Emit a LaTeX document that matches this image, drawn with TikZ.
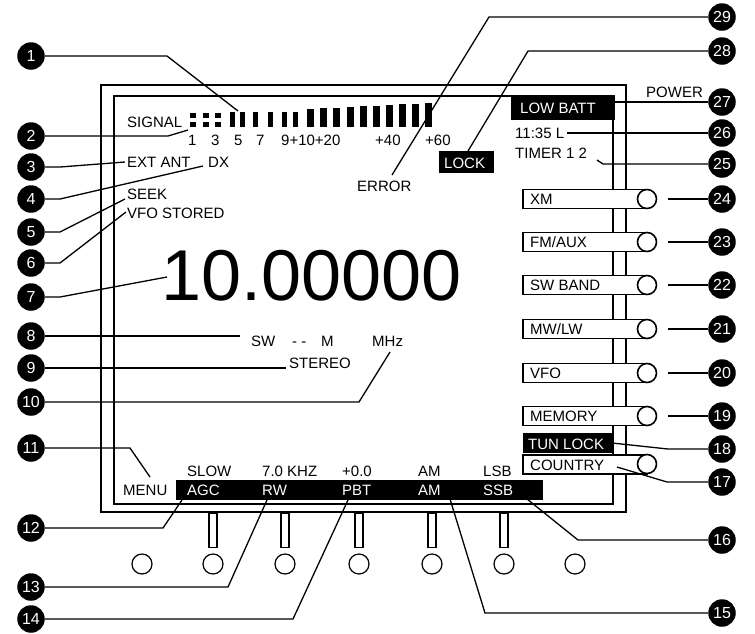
\documentclass[tikz,border=0pt]{standalone}
\usepackage{fontspec}
\setmainfont{Liberation Sans}
\begin{document}
\begin{tikzpicture}[x=1pt,y=-1pt,
  txt/.style={font=\fontsize{15}{18}\selectfont, anchor=base west, inner sep=0pt},
  wtxt/.style={txt, text=white},
  num/.style={circle, fill=black, text=white, minimum size=27.5pt, inner sep=0pt, font=\fontsize{16}{18}\selectfont},
  ldr/.style={line width=1.3pt},
  frm/.style={line width=1.5pt},
  blk/.style={fill=black, draw=none, inner sep=0pt, anchor=north west},
  btnbox/.style={draw, fill=white, line width=1.3pt, minimum width=124pt, minimum height=19pt, inner sep=0pt, anchor=west},
  knob/.style={circle, draw, fill=white, line width=1.6pt, minimum size=19pt, inner sep=0pt},
  stem/.style={draw, fill=white, line width=1.2pt, minimum width=8pt, minimum height=34pt, inner sep=0pt, anchor=north},
  dial/.style={circle, draw, line width=1.2pt, minimum size=20pt, inner sep=0pt}
]
\useasboundingbox (0,0) rectangle (755,633);

% frames
\draw[frm] (101,85) rectangle (626,512);
\draw[frm] (114,96) rectangle (613,504);

% signal meter
\node[txt] (tsig) at (127,127) {SIGNAL};
\foreach \x in {190,203,215} {
  \fill (\x,113) rectangle ({\x+5.5},118);
  \fill (\x,122) rectangle ({\x+5.5},127);
}
\foreach \x in {230,240,253,268,282,293} \fill (\x,112) rectangle ({\x+5},127);
\foreach \x [count=\i] in {307,320,333,347,360,373,386,399,412,425}
  \fill (\x,{109.6-0.65*\i}) rectangle ({\x+6.5},127);
\node[txt] (s1) at (188,145) {1};
\node[txt] (s3) at (211,145) {3};
\node[txt] (s5) at (234,145) {5};
\node[txt] (s7) at (256,145) {7};
\node[txt] (s9) at (281,145) {9+10+20};
\node[txt] (s40) at (375,145) {+40};
\node[txt] (s60) at (425,145) {+60};

% left texts
\node[txt] (text) at (127,167) {EXT ANT};
\node[txt] (tdx) at (208,167) {DX};
\node[txt] (tseek) at (127,199) {SEEK};
\node[txt] (tvfo) at (127,218) {VFO STORED};
\node[font=\fontsize{72}{72}\selectfont, anchor=base west, inner sep=0pt] (freq) at (161,300) {10.00000};
\node[txt] (tsw) at (251,346) {SW};
\node[txt] (tdash) at (292,346) {- -};
\node[txt] (tm) at (321,346) {M};
\node[txt] (tmhz) at (372,346) {MHz};
\node[txt] (tstereo) at (289,368) {STEREO};
\node[txt] (terror) at (357,191) {ERROR};

% black boxes top right
\node[blk, minimum width=55pt, minimum height=22pt] (lock) at (439,151) {};
\node[wtxt] (tlock) at (444,168) {LOCK};
\node[blk, minimum width=104pt, minimum height=25pt] (lowbatt) at (511,95) {};
\node[wtxt] (tlowbatt) at (520,113) {LOW BATT};
\node[txt] (tpower) at (646,97) {POWER};
\node[txt] (ttime) at (515,138) {11:35 L};
\node[txt] (ttimer) at (515,158) {TIMER 1 2};

% bottom bar
\node[blk, minimum width=367pt, minimum height=20pt] (bbar) at (176,480) {};
\node[txt] (tmenu) at (123,495) {MENU};
\foreach \xx/\top/\bot/\nm in {187/SLOW/AGC/a, 262/{7.0 KHZ}/RW/b, 342/+0.0/PBT/c, 418/AM/AM/d, 483/LSB/SSB/e} {
  \node[txt] (up\nm) at (\xx,476) {\top};
  \node[wtxt] (lo\nm) at (\xx,495) {\bot};
}

% right buttons
\foreach \lab/\y/\n in {{XM}/199/24, {FM/AUX}/242/23, {SW BAND}/285/22, {MW/LW}/329/21, {VFO}/373/20, {MEMORY}/416/19} {
  \node[btnbox] (bx\n) at (523,\y) {};
  \draw[line width=2.4pt] (bx\n.north west) -- (bx\n.south west);
  \node[knob] (bk\n) at (647,\y) {};
  \node[txt] (bt\n) at (530,{\y+5}) {\lab};
}
\node[blk, minimum width=89pt, minimum height=20pt] (tunlock) at (523,433) {};
\node[wtxt] (ttun) at (528,449) {TUN LOCK};
\node[btnbox] (bx17) at (523,464.5) {};
\draw[line width=2.4pt] (bx17.north west) -- (bx17.south west);
\node[knob] (bk17) at (647,464) {};
\node[txt] (tcountry) at (530,470) {COUNTRY};

% bottom knobs
\foreach \x [count=\i] in {213,285,359,432,504} \node[stem] (st\i) at (\x,513) {};
\foreach \x [count=\i] in {142,213,285,359,432,504,575} \node[dial] (dl\i) at (\x,564) {};

% callout numbers
\foreach \n/\y in {1/56,2/136,3/167,4/199,5/232,6/263,7/297,8/336,9/368,10/402,11/448,12/528,13/587,14/619}
  \node[num] (n\n) at (31,\y) {\n};
\foreach \n/\y in {29/17,28/51,27/102,26/133,25/164,24/199,23/242,22/285,21/329,20/373,19/416,18/449,17/482,16/540,15/613}
  \node[num] (n\n) at (722,\y) {\n};

% leaders left
\draw[ldr] (n1) -- (167,56) -- (238,111);
\draw[ldr] (n2) -- (168,136) -- (188,130);
\draw[ldr] (n3) -- (60,167) -- (125,162);
\draw[ldr] (n4) -- (60,199) -- (203,166);
\draw[ldr] (n5) -- (60,232) -- (125,199);
\draw[ldr] (n6) -- (60,263) -- (126,212);
\draw[ldr] (n7) -- (60,297) -- (167,277);
\draw[ldr] (n8) -- (240,336);
\draw[ldr] (n9) -- (286,368);
\draw[ldr] (n10) -- (359,402) -- (390,352);
\draw[ldr] (n11) -- (130,448) -- (150,477);
\draw[ldr] (n12) -- (163,528) -- (182,500);
\draw[ldr] (n13) -- (228,587) -- (267,500);
\draw[ldr] (n14) -- (293,619) -- (348,500);

% leaders right
\draw[ldr] (n29) -- (489,17) -- (392,175);
\draw[ldr] (n28) -- (528,51) -- (468,151);
\draw[ldr] (lowbatt.east |- n27) -- (n27);
\draw[ldr] (567,133) -- (n26);
\draw[ldr] (597,160) -- (603,164) -- (n25);
\foreach \n in {24,23,22,21,20,19} \draw[ldr] ([xshift=11pt]bk\n.east) -- (n\n);
\draw[ldr] (612,443) -- (668,449) -- (n18);
\draw[ldr] (617,467) -- (667,482) -- (n17);
\draw[ldr] (n16) -- (578,540) -- (527,499);
\draw[ldr] (n15) -- (485,613) -- (450,499);
\end{tikzpicture}
\end{document}
